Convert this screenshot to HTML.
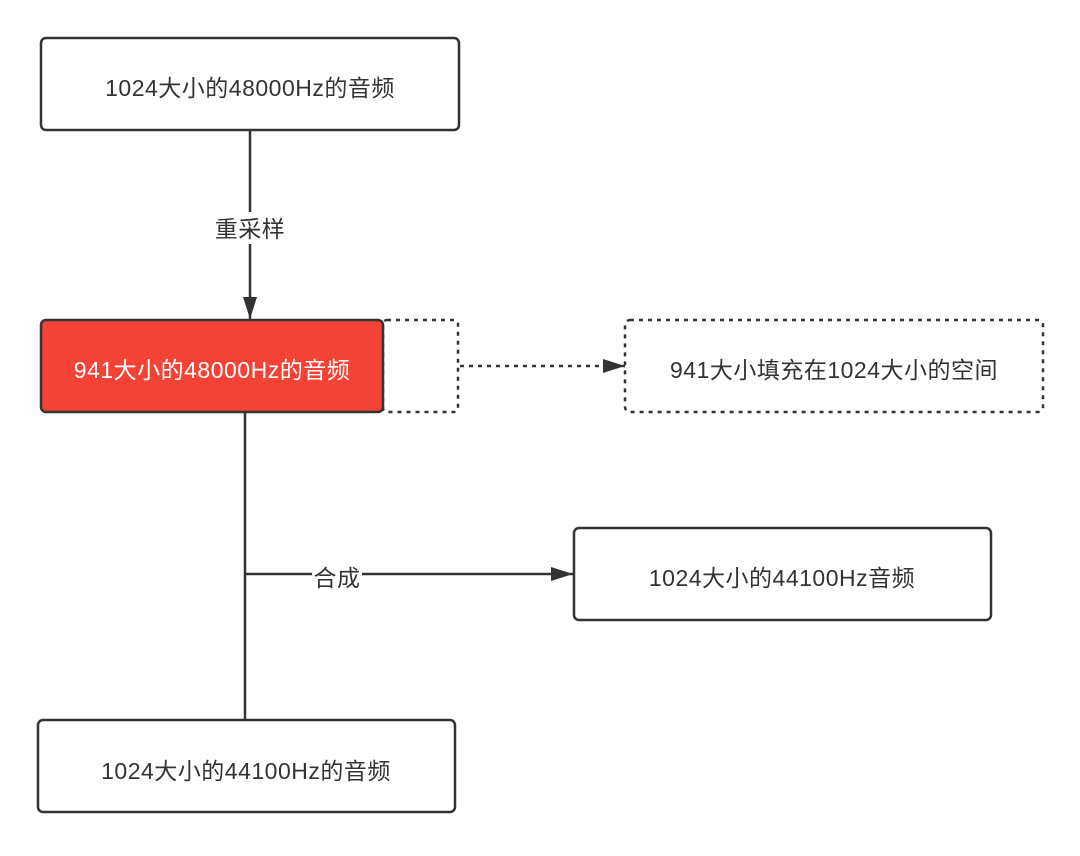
<!DOCTYPE html>
<html><head><meta charset="utf-8"><style>
body{margin:0;width:1080px;height:851px;background:#fff;overflow:hidden}
svg text{font-family:"Liberation Sans","Noto Sans CJK SC",sans-serif;font-size:23px;fill:#333;letter-spacing:0.5px}
</style></head><body>
<svg width="1080" height="851" xmlns="http://www.w3.org/2000/svg">
<defs><marker id="b" markerWidth="24" markerHeight="14" refX="22" refY="7" orient="auto" markerUnits="userSpaceOnUse"><path d="M0,0 L22,7 L0,14 z" fill="#333"/></marker></defs>
<g stroke="#333" stroke-width="2.5" fill="none">
<rect x="41" y="38" width="418" height="92" rx="5" fill="#fff"/>
<line x1="250" y1="130" x2="250" y2="319" marker-end="url(#b)"/>
<rect x="383" y="320" width="75" height="92" rx="4" stroke-dasharray="4,5"/>
<rect x="41" y="320" width="342" height="92" rx="5" fill="#f44336"/>
<line x1="460" y1="366" x2="625" y2="366" stroke-dasharray="4,5" marker-end="url(#b)"/>
<rect x="625" y="320" width="418" height="92" rx="5" stroke-dasharray="4,5"/>
<line x1="245" y1="412" x2="245" y2="720"/>
<line x1="245" y1="574" x2="573" y2="574" marker-end="url(#b)"/>
<rect x="574" y="528" width="417" height="92" rx="5"/>
<rect x="38" y="720" width="417" height="92" rx="5"/>
</g>
<rect x="212" y="212" width="76" height="32" fill="#fff"/>
<text x="250" y="237" text-anchor="middle">重采样</text>
<rect x="312" y="562" width="50" height="26" fill="#fff"/>
<text x="337" y="586" text-anchor="middle">合成</text>
<text x="250" y="96" text-anchor="middle">1024大小的48000Hz的音频</text>
<text x="212" y="378" text-anchor="middle" style="fill:#fff">941大小的48000Hz的音频</text>
<text x="834" y="378" text-anchor="middle">941大小填充在1024大小的空间</text>
<text x="782" y="586" text-anchor="middle">1024大小的44100Hz音频</text>
<text x="246" y="779" text-anchor="middle">1024大小的44100Hz的音频</text>
</svg></body></html>
